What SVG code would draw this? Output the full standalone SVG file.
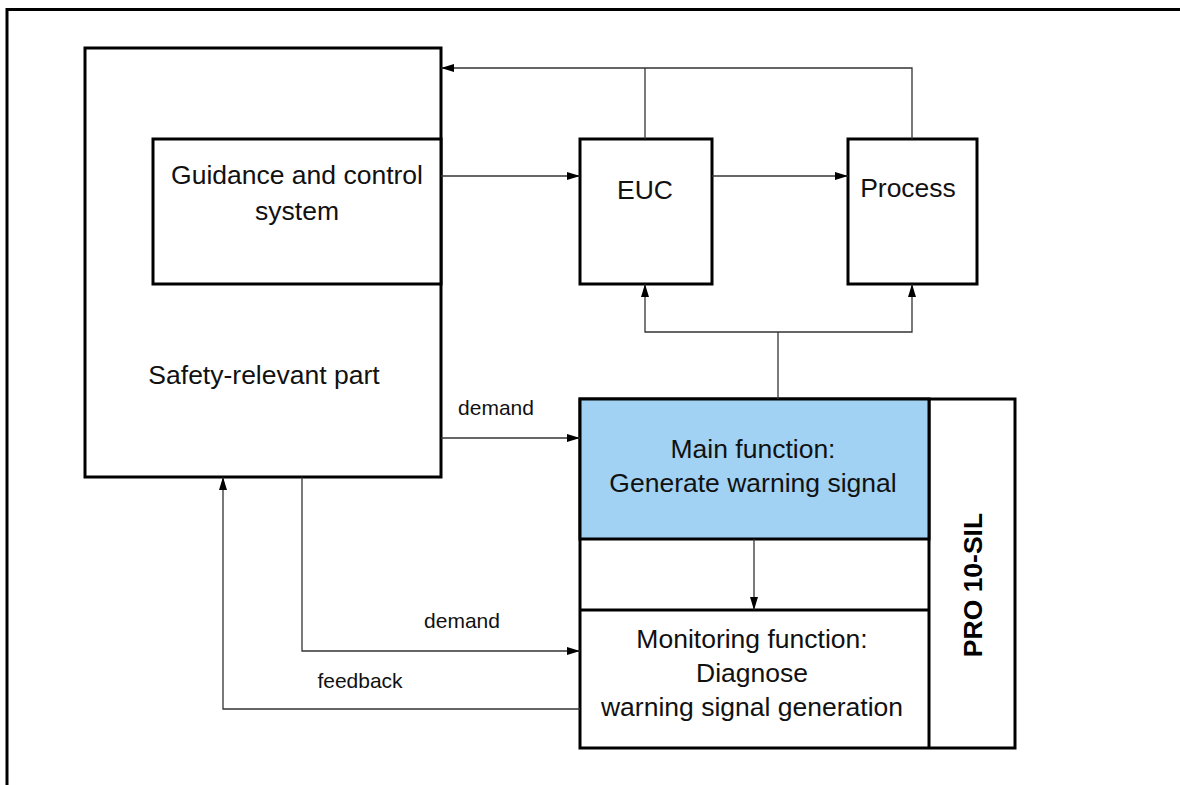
<svg xmlns="http://www.w3.org/2000/svg" width="1180" height="785" viewBox="0 0 1180 785">
<style>
.box{fill:#fff;stroke:#000;stroke-width:3}
.blue{fill:#a1d2f3;stroke:#000;stroke-width:3}
.ln{fill:none;stroke:#000;stroke-width:3}
.c{fill:none;stroke:#333;stroke-width:1.3}
.t{font-family:"Liberation Sans",Arial,sans-serif;font-size:26.5px;fill:#111;text-anchor:middle}
.s{font-family:"Liberation Sans",Arial,sans-serif;font-size:21px;fill:#111;text-anchor:middle}
.b{font-family:"Liberation Sans",Arial,sans-serif;font-size:26.5px;font-weight:bold;fill:#000;text-anchor:middle}
</style>
<defs>
<marker id="ah" markerUnits="userSpaceOnUse" markerWidth="13" markerHeight="8" refX="13" refY="4" orient="auto">
<path d="M0,0 L13,4 L0,8 z" fill="#000"/>
</marker>
</defs>
<rect width="1180" height="785" fill="#fff"/>
<path class="ln" d="M7,790 L7,9.5 L1190,9.5"/>
<g id="safety">
<rect class="box" x="85" y="48" width="356" height="429"/>
<text class="t" x="264" y="384">Safety-relevant part</text>
</g>
<g id="guidance">
<rect class="box" x="153" y="139" width="288" height="145"/>
<text class="t" x="297" y="184">Guidance and control</text>
<text class="t" x="297" y="220">system</text>
</g>
<g id="euc">
<rect class="box" x="580" y="139" width="132" height="145"/>
<text class="t" x="645" y="199">EUC</text>
</g>
<g id="process">
<rect class="box" x="848" y="139" width="129" height="145"/>
<text class="t" x="908" y="197">Process</text>
</g>
<g id="pro10sil">
<rect class="box" x="580" y="399" width="435" height="349"/>
<line class="ln" x1="929" y1="399" x2="929" y2="748"/>
<text class="b" transform="translate(982,585) rotate(-90)">PRO 10-SIL</text>
</g>
<g id="main">
<rect class="blue" x="580" y="399" width="349" height="140"/>
<text class="t" x="753" y="458">Main function:</text>
<text class="t" x="753" y="492">Generate warning signal</text>
</g>
<g id="monitoring">
<line class="ln" x1="580" y1="610" x2="929" y2="610"/>
<text class="t" x="752" y="648">Monitoring function:</text>
<text class="t" x="752" y="682">Diagnose</text>
<text class="t" x="752" y="716">warning signal generation</text>
</g>
<g id="connectors">
<path class="c" d="M645,139 L645,68"/>
<path class="c" d="M912,139 L912,68 L441,68" marker-end="url(#ah)"/>
<path class="c" d="M441,176 L580,176" marker-end="url(#ah)"/>
<path class="c" d="M712,176 L848,176" marker-end="url(#ah)"/>
<path class="c" d="M778,399 L778,332"/>
<path class="c" d="M778,332 L645,332 L645,284" marker-end="url(#ah)"/>
<path class="c" d="M778,332 L912,332 L912,284" marker-end="url(#ah)"/>
<path class="c" d="M441,438 L580,438" marker-end="url(#ah)"/>
<path class="c" d="M754,539 L754,610" marker-end="url(#ah)"/>
<path class="c" d="M302,477 L302,651 L580,651" marker-end="url(#ah)"/>
<path class="c" d="M580,709 L223,709 L223,477" marker-end="url(#ah)"/>
<text class="s" x="496" y="415">demand</text>
<text class="s" x="462" y="628">demand</text>
<text class="s" x="360" y="688">feedback</text>
</g>
</svg>
